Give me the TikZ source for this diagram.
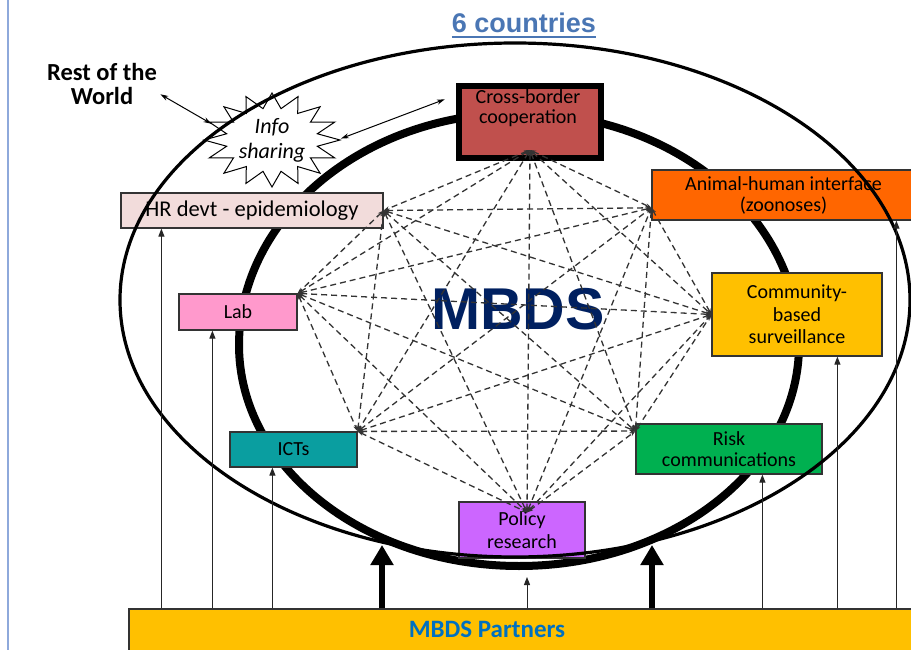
\documentclass[tikz,border=0pt]{standalone}
\usepackage{fontspec}
\setmainfont{Carlito}
\newfontfamily\arialfont{Liberation Sans}
\usetikzlibrary{arrows.meta,shapes.geometric,calc}

\definecolor{boxline}{HTML}{333333}
\definecolor{crossred}{HTML}{C0504D}
\definecolor{hrpink}{HTML}{F2DCDB}
\definecolor{aniorange}{HTML}{FF6600}
\definecolor{labpink}{HTML}{FF99CC}
\definecolor{comgold}{HTML}{FFC000}
\definecolor{ictteal}{HTML}{0A9EA0}
\definecolor{riskgreen}{HTML}{00B050}
\definecolor{polviolet}{HTML}{CC66FF}
\definecolor{mbdsnavy}{HTML}{002060}
\definecolor{partnerblue}{HTML}{0070C0}
\definecolor{titleblue}{HTML}{4A76B4}
\definecolor{edgeblue}{HTML}{8EA9DB}
\definecolor{linkgray}{HTML}{333333}

\tikzset{
    block/.style={
           rectangle,
           draw=boxline, line width=1.2pt,
           inner sep=0pt,
           align=center,
           font=\fontsize{20}{21}\selectfont,
           },
    crossbox/.style={rectangle, draw=black, line width=6pt, fill=crossred, inner sep=0pt},
    ring/.style={draw=black, line width=8pt},
    outerring/.style={draw=black, line width=3.2pt},
    burst/.style={draw=black, line width=1pt, fill=white, line join=miter},
    link/.style={linkgray, line width=1.3pt, dash pattern=on 6pt off 4pt,
           {Stealth[length=6pt,width=4pt]}-{Stealth[length=6pt,width=4pt]}},
    feed/.style={black!85, line width=1pt, -{Triangle[length=8pt,width=6pt]}},
    bigfeed/.style={black, line width=6pt, -{Triangle[length=20pt,width=22pt]}},
    twoway/.style={black, line width=1pt,
           {Stealth[length=8pt,width=5pt]}-{Stealth[length=8pt,width=5pt]}},
}

\begin{document}
\begin{tikzpicture}[x=1pt,y=-1pt]
 \useasboundingbox (0,0) rectangle (911,650);

 % slide edge
 \draw[edgeblue, line width=2pt] (8,0) -- (8,650);

 % inner ring (drawn first, boxes sit on it)
 \draw[ring] (239,345) arc[start angle=180, end angle=360, x radius=280, y radius=232]
                       arc[start angle=0, end angle=180, x radius=280, y radius=221] -- cycle;

 % headings
 \node[font=\arialfont\bfseries\fontsize{27}{28}\selectfont, text=titleblue, inner sep=0pt] (title) at (524,23) {6 countries};
 \draw[titleblue, line width=2.2pt] ([yshift=-4pt]title.base west) -- ([yshift=-4pt]title.base east);

 \node[font=\bfseries\fontsize{24.5}{24}\selectfont, align=center] (rest) at (102,84) {Rest of the\\World};

 \node[font=\arialfont\bfseries\fontsize{59}{60}\selectfont, text=mbdsnavy] (mbds) at (518,309) {MBDS};

 % the eight pillars
 \node[crossbox, minimum width=142, minimum height=72] (cross) at (530,122) {};
 \node[font=\fontsize{20}{20}\selectfont, align=center] (crosstext) at (528,108) {Cross-border\\cooperation};

 \node[block, fill=hrpink, minimum width=262, minimum height=35,
  font=\fontsize{22.5}{23}\selectfont] (hr) at (252,210.5) {HR devt - epidemiology};

 \node[block, fill=aniorange, minimum width=263, minimum height=50] (ani) at (783.5,195)
  {Animal-human interface\\(zoonoses)};

 \node[block, fill=labpink, minimum width=118, minimum height=36] (lab) at (238,312) {Lab};

 \node[block, fill=comgold, minimum width=170, minimum height=83,
  font=\fontsize{20}{22.5}\selectfont] (com) at (797,314.5) {Community-\\based\\surveillance};

 \node[block, fill=ictteal, minimum width=127, minimum height=35] (ict) at (293.5,449.5) {ICTs};

 \node[block, fill=riskgreen, minimum width=186, minimum height=50] (risk) at (729,449)
  {Risk\\communications};

 \node[block, fill=polviolet, minimum width=126, minimum height=56,
  font=\fontsize{20}{23}\selectfont] (pol) at (522,530) {Policy\\research};

 % info sharing burst
 \coordinate (infoc) at (272,140);
 \draw[burst] ([shift={(0:68 and 47)}]infoc)
   \foreach \k [evaluate=\k as \r using {1-0.32*mod(\k,2)}] in {1,...,31} {
     -- ([shift={(\k*11.25:\r*68 and \r*47)}]infoc)
   } -- cycle;
 \node[ellipse, minimum width=130, minimum height=88, inner sep=0pt, align=center,
  font=\itshape\fontsize{22}{25}\selectfont] (info) at (infoc) {Info\\sharing};

 % outer ring, over the boxes
 \draw[outerring] (515,300) ellipse[x radius=395, y radius=257];

 % hubs where the dashed links meet
 \coordinate (hcb) at ($(cross.south)+(0,-11)$);
 \coordinate (hhr) at (hr.east);
 \coordinate (hlab) at (lab.north east);
 \coordinate (hict) at (ict.north east);
 \coordinate (hpol) at ($(pol.north)+(5,11)$);
 \coordinate (hrisk) at ($(risk.north west)!.3!(risk.west)$);
 \coordinate (hcom) at (com.west);
 \coordinate (hani) at ($(ani.west)!.5!(ani.south west)$);

 \foreach \a [count=\i] in {hcb,hhr,hlab,hict,hpol,hrisk,hcom,hani}
  \foreach \b [count=\j] in {hcb,hhr,hlab,hict,hpol,hrisk,hcom,hani}
   {\ifnum\j>\i\relax \draw[link] (\a) -- (\b); \fi}

 % exchange with the rest of the world
 \draw[twoway] (rest.-10) -- (info.165);
 \draw[twoway, shorten <=4pt, shorten >=12pt] (info.east) -- (cross.160);

 % partners and what they feed
 \node[rectangle, draw=boxline, line width=1.2pt, fill=comgold, minimum width=786, minimum height=51,
  inner sep=0pt] (partner) at (522,634.5) {};
 \node[font=\bfseries\fontsize{25}{26}\selectfont, text=partnerblue] (partnerlabel) at (487,629) {MBDS Partners};

 \coordinate (fhr) at ([xshift=41pt]hr.south west);
 \coordinate (flab) at ([xshift=34pt]lab.south west);
 \coordinate (fict) at ([xshift=43pt]ict.south west);
 \coordinate (frisk) at ([xshift=127pt]risk.south west);
 \coordinate (fcom) at ([xshift=126pt]com.south west);
 \coordinate (fani) at ([xshift=245pt]ani.south west);
 \coordinate (ringL) at (382,545);
 \coordinate (ringB) at (527,577);
 \coordinate (ringR) at (652,545);

 \foreach \t in {fhr,flab,fict,ringB,frisk,fcom,fani}
  \draw[feed] (partner.north -| \t) -- (\t);
 \draw[bigfeed] (partner.north -| ringL) -- (ringL);
 \draw[bigfeed] (partner.north -| ringR) -- (ringR);

\end{tikzpicture}
\end{document}
